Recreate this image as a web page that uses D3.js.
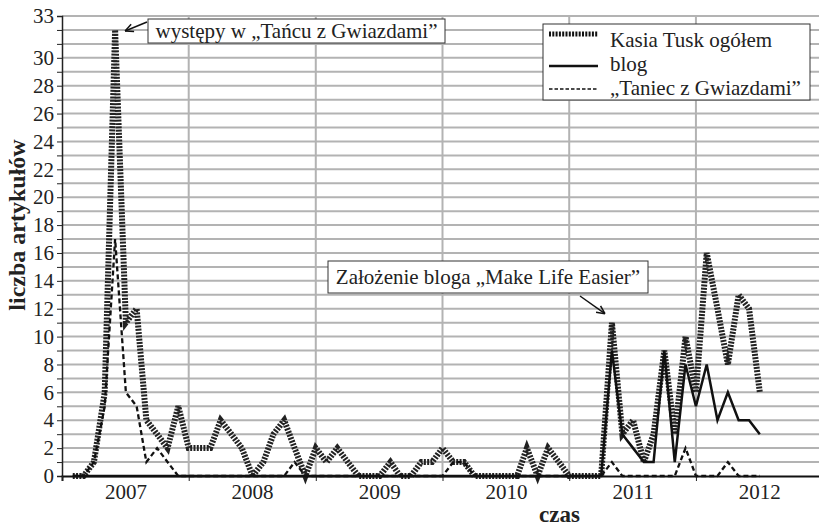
<!DOCTYPE html>
<html>
<head>
<meta charset="utf-8">
<script src="https://cdn.jsdelivr.net/npm/d3@7"></script>
<style>
  body { margin: 0; background: #fff; }
  text { font-family: 'Liberation Serif', 'DejaVu Serif', serif; fill: #222; }
</style>
</head>
<body>
<svg id="chart" width="819" height="526"></svg>
<script>
// monthly article counts, Aug 2006 - Jan 2012
const months = d3.utcMonth.range(new Date(Date.UTC(2006, 7, 1)), new Date(Date.UTC(2012, 1, 1)));

const kasiaTotal = [0, 0, 1, 6, 32, 11, 12, 4, 3, 2, 5, 2,
  2, 2, 4, 3, 2, 0, 1, 3, 4, 2, 0, 2,
  1, 2, 1, 0, 0, 0, 1, 0, 0, 1, 1, 2,
  1, 1, 0, 0, 0, 0, 0, 2, 0, 2, 1, 0,
  0, 0, 0, 11, 3, 4, 1, 3, 9, 3, 10, 6,
  16, 12, 8, 13, 12, 6];

const blog = [0, 0, 0, 0, 0, 0, 0, 0, 0, 0, 0, 0,
  0, 0, 0, 0, 0, 0, 0, 0, 0, 0, 0, 0,
  0, 0, 0, 0, 0, 0, 0, 0, 0, 0, 0, 0,
  0, 0, 0, 0, 0, 0, 0, 0, 0, 0, 0, 0,
  0, 0, 0, 9, 3, 2, 1, 1, 9, 1, 8, 5,
  8, 4, 6, 4, 4, 3];

const taniec = [0, 0, 1, 5, 17, 6, 5, 1, 2, 1, 0, 0,
  0, 0, 0, 0, 0, 0, 0, 0, 0, 1, 0, 0,
  0, 0, 0, 0, 0, 0, 0, 0, 0, 0, 0, 0,
  1, 1, 0, 0, 0, 0, 0, 0, 0, 0, 0, 0,
  0, 0, 0, 1, 0, 0, 0, 0, 0, 0, 2, 0,
  0, 0, 1, 0, 0, 0];

const yearLabels = [2007, 2008, 2009, 2010, 2011, 2012];
const yTickLabels = [0, 2, 4, 6, 8, 10, 12, 14, 16, 18, 20, 22, 24, 26, 28, 30, 33];

const seriesNames = ['Kasia Tusk ogółem', 'blog', '„Taniec z Gwiazdami”'];

const svg = d3.select('#chart');
const width = 819;
const height = 526;
const margin = { top: 16, right: -4, bottom: 50, left: 62 };
const serif = "'Liberation Serif', 'DejaVu Serif', serif";

const x = d3.scaleUtc()
  .domain([new Date(Date.UTC(2006, 6, 1)), new Date(Date.UTC(2012, 6, 1))])
  .range([margin.left, width - margin.right]);

const y = d3.scaleLinear()
  .domain([0, 33])
  .range([height - margin.bottom, margin.top]);

const gridColor = '#b3b3b3';

// horizontal grid, one line per unit
svg.append('g')
  .selectAll('line')
  .data(d3.range(1, 34))
  .enter()
  .append('line')
  .attr('x1', margin.left)
  .attr('x2', width)
  .attr('y1', d => y(d))
  .attr('y2', d => y(d))
  .attr('stroke', gridColor)
  .attr('stroke-width', 2);

// vertical grid, mid-year
const midYears = yearLabels.slice(0, 5).map(yr => new Date(Date.UTC(yr, 6, 1)));
svg.append('g')
  .selectAll('line')
  .data(midYears)
  .enter()
  .append('line')
  .attr('x1', d => x(d))
  .attr('x2', d => x(d))
  .attr('y1', y(33))
  .attr('y2', y(0))
  .attr('stroke', gridColor)
  .attr('stroke-width', 2);

// y axis
const yAxis = d3.axisLeft(y)
  .tickValues(d3.range(0, 34))
  .tickSize(5)
  .tickPadding(3)
  .tickFormat(d => yTickLabels.includes(d) ? d : '');

const gy = svg.append('g')
  .attr('transform', `translate(${margin.left}, 0)`)
  .call(yAxis);
gy.attr('font-family', serif);
gy.select('.domain').attr('stroke', '#222').attr('stroke-width', 1.5);
gy.selectAll('.tick line').attr('stroke', '#222');
gy.selectAll('.tick text')
  .style('font-size', '21px')
  .style('font-family', serif)
  .attr('fill', '#222');

// x axis: ticks mid-year, labels at January
const xAxis = d3.axisBottom(x)
  .tickValues([new Date(Date.UTC(2006, 6, 1))].concat(midYears))
  .tickSize(5)
  .tickFormat('');

const gx = svg.append('g')
  .attr('transform', `translate(0, ${y(0)})`)
  .call(xAxis);
gx.select('.domain').attr('stroke', '#111').attr('stroke-width', 2);
gx.selectAll('.tick line').attr('stroke', '#222');

svg.append('g')
  .selectAll('text')
  .data(yearLabels)
  .enter()
  .append('text')
  .attr('x', d => x(new Date(Date.UTC(d, 0, 1))))
  .attr('y', y(0) + 23)
  .attr('text-anchor', 'middle')
  .style('font-size', '21px')
  .text(d => d);

// axis titles
svg.append('text')
  .attr('x', x(new Date(Date.UTC(2009, 6, 1))) + 117)
  .attr('y', height - 4)
  .attr('text-anchor', 'middle')
  .attr('font-weight', 'bold')
  .style('font-size', '23px')
  .text('czas');

svg.append('text')
  .attr('transform', `translate(25, ${(y(0) + y(33)) / 2 - 21}) rotate(-90)`)
  .attr('text-anchor', 'middle')
  .attr('font-weight', 'bold')
  .style('font-size', '24px')
  .text('liczba artykułów');

// series
const lineFor = values => d3.line()
  .x((d, i) => x(months[i]))
  .y(d => y(d))(values);

svg.append('path')
  .attr('d', lineFor(kasiaTotal))
  .attr('fill', 'none')
  .attr('stroke', '#222')
  .attr('stroke-width', 6)
  .attr('stroke-dasharray', '2,1.3');

svg.append('path')
  .attr('d', lineFor(blog))
  .attr('fill', 'none')
  .attr('stroke', '#111')
  .attr('stroke-width', 2.5)
  .attr('stroke-linejoin', 'miter');

svg.append('path')
  .attr('d', lineFor(taniec))
  .attr('fill', 'none')
  .attr('stroke', '#111')
  .attr('stroke-width', 2.3)
  .attr('stroke-dasharray', '5,3');

// annotations
const annotate = (label, box, from, to) => {
  const g = svg.append('g');
  g.append('rect')
    .attr('x', box[0])
    .attr('y', box[1])
    .attr('width', box[2])
    .attr('height', box[3])
    .attr('fill', '#fff')
    .attr('stroke', '#333')
    .attr('stroke-width', 1);
  g.append('text')
    .attr('x', box[0] + box[2] / 2)
    .attr('y', box[1] + box[3] / 2 + 7)
    .attr('text-anchor', 'middle')
    .style('font-size', '21px')
    .text(label);
  // arrow with open head
  const ang = Math.atan2(to[1] - from[1], to[0] - from[0]);
  const head = 9;
  g.append('line')
    .attr('x1', from[0]).attr('y1', from[1])
    .attr('x2', to[0]).attr('y2', to[1])
    .attr('stroke', '#111').attr('stroke-width', 1.5);
  [-0.45, 0.45].forEach(a => {
    g.append('line')
      .attr('x1', to[0]).attr('y1', to[1])
      .attr('x2', to[0] - head * Math.cos(ang + a))
      .attr('y2', to[1] - head * Math.sin(ang + a))
      .attr('stroke', '#111').attr('stroke-width', 1.5);
  });
};

const peakX = x(months[4]);
const peakY = y(kasiaTotal[4]);
annotate('występy w „Tańcu z Gwiazdami”', [148, 19, 297, 24],
  [147, 22], [peakX + 10, peakY + 1]);

const blogX = x(months[51]);
const blogY = y(kasiaTotal[51]);
annotate('Założenie bloga „Make Life Easier”', [328, 261, 320, 32],
  [580, 296], [blogX - 7, blogY - 9]);

// legend
const legend = svg.append('g')
  .attr('transform', 'translate(543, 24)');

legend.append('rect')
  .attr('width', 267)
  .attr('height', 76)
  .attr('fill', '#fff')
  .attr('stroke', '#333')
  .attr('stroke-width', 1);

const legendStyles = [
  { w: 5, dash: '2,1.3', dy: 10 },
  { w: 2.5, dash: null, dy: 42 },
  { w: 1.5, dash: '3.5,2', dy: 65 }
];

seriesNames.forEach((name, i) => {
  const st = legendStyles[i];
  legend.append('line')
    .attr('x1', 6)
    .attr('x2', 55)
    .attr('y1', st.dy)
    .attr('y2', st.dy)
    .attr('stroke', '#111')
    .attr('stroke-width', st.w)
    .attr('stroke-dasharray', st.dash);
  legend.append('text')
    .attr('x', 67)
    .attr('y', 23 + i * 24)
    .style('font-size', '21px')
    .text(name);
});
</script>
</body>
</html>
